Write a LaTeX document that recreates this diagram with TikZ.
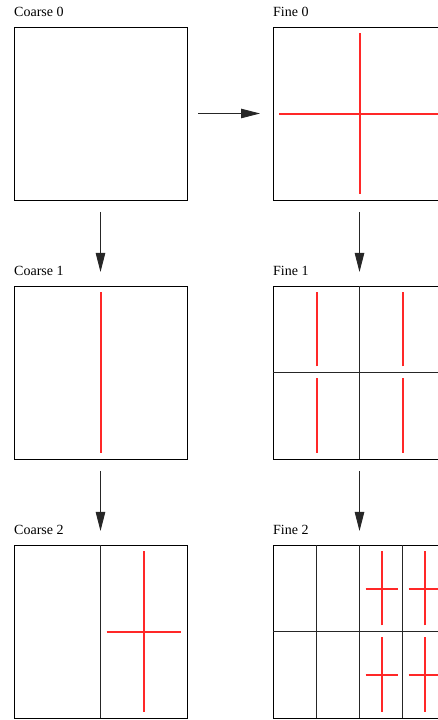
\documentclass[tikz,border=0pt]{standalone}
\usepackage{fontspec}
\setmainfont{Liberation Serif}
\usetikzlibrary{arrows.meta,calc}
\definecolor{crossred}{RGB}{255,40,40}
\tikzset{
  grid box/.style={draw=black, line width=0.8pt, minimum width=173pt, minimum height=173pt, inner sep=0pt, outer sep=0pt},
  divline/.style={draw=black!85, line width=0.8pt},
  redl/.style={draw=crossred, line width=1.1pt},
  lbl/.style={anchor=base west, inner sep=0pt, font=\fontsize{14}{16}\selectfont},
  arr/.style={draw=black!85, line width=0.9pt, -{Triangle[length=19pt,width=9.5pt]}},
  harr/.style={arr, shorten <=11pt, shorten >=13pt},
  varr/.style={arr, shorten <=12pt, shorten >=14pt}
}
\begin{document}
\begin{tikzpicture}[x=1pt,y=1pt]
\clip (0,0) rectangle (438,720);
% red marks
% Fine 0
\draw[redl] (360,526) -- (360,687);
\draw[redl] (279,606) -- (440,606);
% Coarse 1
\draw[redl] (101,267) -- (101,428);
% Fine 1
\draw[redl] (317,267) -- (317,341.5);
\draw[redl] (317,353.5) -- (317,428);
\draw[redl] (403,267) -- (403,341.5);
\draw[redl] (403,353.5) -- (403,428);
% Coarse 2
\draw[redl] (144,8) -- (144,169);
\draw[redl] (106.5,88) -- (181,88);
% Fine 2
\foreach \cx/\x/\X in {382/365.5/397.5, 425/408.5/440} {
  \foreach \y/\Y/\m in {2/88.5/45, 88.5/175/131} {
    \draw[redl] (\cx,\y+6) -- (\cx,\Y-6);
    \draw[redl] (\x,\m) -- (\X,\m);
  }
}
% boxes
\node[grid box] (c0) at (100.5,606.5) {};
\node[grid box] (f0) at (359.5,606.5) {};
\node[grid box] (c1) at (100.5,347.5) {};
\node[grid box] (f1) at (359.5,347.5) {};
\node[grid box] (c2) at (100.5,88.5) {};
\node[grid box] (f2) at (359.5,88.5) {};
% dividers
\draw[divline] (359.5,261) -- (359.5,434);
\draw[divline] (273,347.5) -- (446,347.5);
\draw[divline] (100.5,2) -- (100.5,175);
\draw[divline] (316.25,2) -- (316.25,175);
\draw[divline] (359.5,2) -- (359.5,175);
\draw[divline] (402.75,2) -- (402.75,175);
\draw[divline] (273,88.5) -- (446,88.5);
% labels
\node[lbl] (lc0) at (14,703) {Coarse 0};
\node[lbl] (lf0) at (273,703) {Fine 0};
\node[lbl] (lc1) at (14,444) {Coarse 1};
\node[lbl] (lf1) at (273,444) {Fine 1};
\node[lbl] (lc2) at (14,185) {Coarse 2};
\node[lbl] (lf2) at (273,185) {Fine 2};
% arrows
\draw[harr] (c0) -- (f0);
\draw[varr] (c0) -- (c1);
\draw[varr] (c1) -- (c2);
\draw[varr] (f0) -- (f1);
\draw[varr] (f1) -- (f2);
\end{tikzpicture}
\end{document}
